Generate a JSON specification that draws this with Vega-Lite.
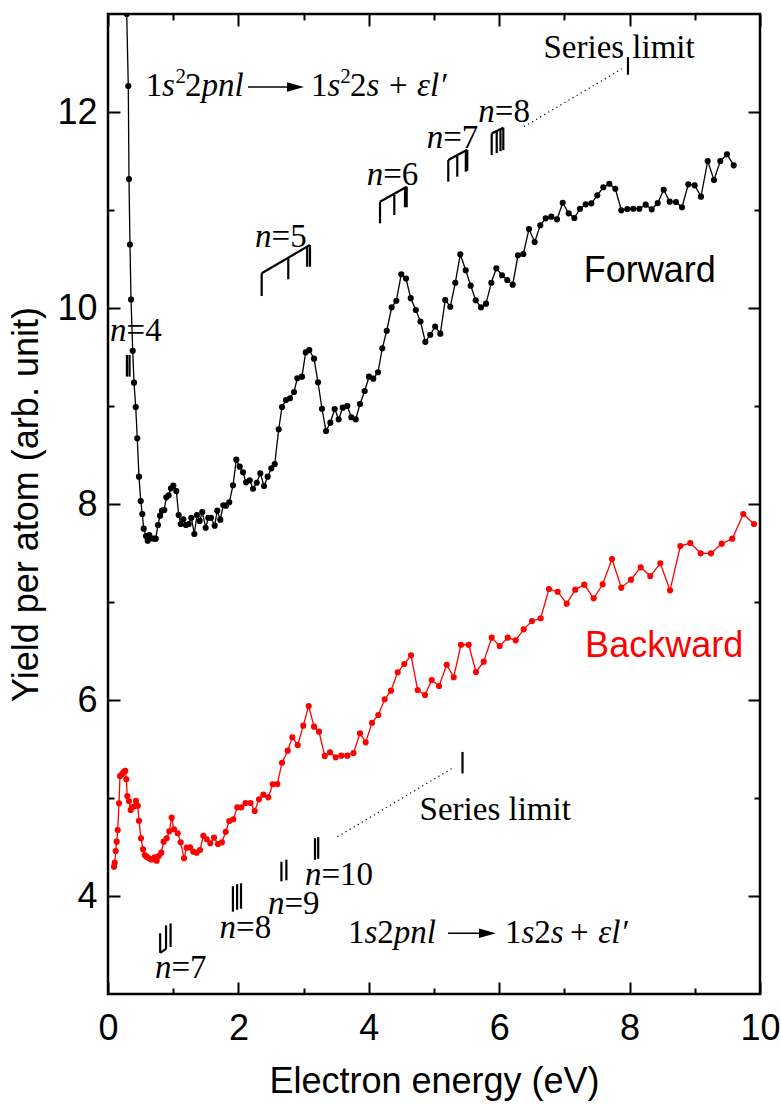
{
  "$schema": "https://vega.github.io/schema/vega-lite/v6.json",
  "width": 652,
  "height": 980,
  "autosize": "none",
  "padding": {"left": 108, "top": 14, "right": 21, "bottom": 110},
  "background": "white",
  "config": {
    "view": {"stroke": "black", "strokeWidth": 2.5},
    "axis": {"grid": false, "domain": false, "tickColor": "black", "tickWidth": 2, "labelColor": "black", "titleColor": "black", "labelFont": "Liberation Sans", "titleFont": "Liberation Sans", "labelFontSize": 36, "titleFontSize": 36, "titleFontWeight": "normal", "labelFlush": false, "labelOverlap": false}
  },
  "datasets": {
    "fwd": [
      {"x":0.287,"y":13.0},{"x":0.311,"y":12.265},{"x":0.322,"y":11.316},{"x":0.337,"y":10.648},{"x":0.353,"y":10.087},{"x":0.379,"y":9.564},{"x":0.399,"y":9.238},{"x":0.425,"y":8.99},{"x":0.449,"y":8.67},{"x":0.475,"y":8.279},{"x":0.502,"y":8.031},{"x":0.526,"y":7.898},{"x":0.548,"y":7.748},{"x":0.583,"y":7.673},{"x":0.609,"y":7.626},{"x":0.633,"y":7.684},{"x":0.66,"y":7.65},{"x":0.706,"y":7.646},{"x":0.732,"y":7.646},{"x":0.767,"y":7.786},{"x":0.798,"y":7.881},{"x":0.828,"y":7.932},{"x":0.863,"y":7.939},{"x":0.894,"y":8.068},{"x":0.931,"y":8.089},{"x":0.966,"y":8.16},{"x":1.002,"y":8.187},{"x":1.048,"y":8.133},{"x":1.084,"y":7.888},{"x":1.115,"y":7.796},{"x":1.155,"y":7.844},{"x":1.196,"y":7.786},{"x":1.238,"y":7.796},{"x":1.278,"y":7.86},{"x":1.324,"y":7.694},{"x":1.365,"y":7.888},{"x":1.406,"y":7.827},{"x":1.446,"y":7.918},{"x":1.498,"y":7.758},{"x":1.538,"y":7.86},{"x":1.58,"y":7.86},{"x":1.636,"y":7.779},{"x":1.676,"y":7.932},{"x":1.722,"y":7.84},{"x":1.768,"y":7.987},{"x":1.81,"y":7.983},{"x":1.86,"y":8.017},{"x":1.917,"y":8.191},{"x":1.968,"y":8.452},{"x":2.02,"y":8.381},{"x":2.071,"y":8.323},{"x":2.117,"y":8.221},{"x":2.173,"y":8.242},{"x":2.224,"y":8.156},{"x":2.281,"y":8.217},{"x":2.336,"y":8.313},{"x":2.393,"y":8.184},{"x":2.449,"y":8.279},{"x":2.505,"y":8.364},{"x":2.557,"y":8.408},{"x":2.618,"y":8.762},{"x":2.669,"y":8.99},{"x":2.73,"y":9.061},{"x":2.791,"y":9.079},{"x":2.853,"y":9.143},{"x":2.903,"y":9.283},{"x":2.975,"y":9.299},{"x":3.032,"y":9.548},{"x":3.087,"y":9.571},{"x":3.16,"y":9.483},{"x":3.221,"y":9.242},{"x":3.282,"y":8.972},{"x":3.344,"y":8.745},{"x":3.41,"y":8.83},{"x":3.477,"y":8.969},{"x":3.538,"y":8.864},{"x":3.6,"y":8.983},{"x":3.67,"y":9.0},{"x":3.732,"y":8.885},{"x":3.799,"y":8.864},{"x":3.865,"y":9.02},{"x":3.937,"y":9.153},{"x":4.003,"y":9.299},{"x":4.069,"y":9.279},{"x":4.141,"y":9.344},{"x":4.207,"y":9.589},{"x":4.275,"y":9.768},{"x":4.351,"y":10.007},{"x":4.422,"y":10.074},{"x":4.498,"y":10.344},{"x":4.571,"y":10.301},{"x":4.643,"y":10.1},{"x":4.721,"y":9.98},{"x":4.793,"y":9.862},{"x":4.867,"y":9.655},{"x":4.942,"y":9.727},{"x":5.018,"y":9.811},{"x":5.097,"y":9.738},{"x":5.173,"y":10.082},{"x":5.25,"y":10.013},{"x":5.327,"y":10.258},{"x":5.403,"y":10.548},{"x":5.486,"y":10.385},{"x":5.563,"y":10.228},{"x":5.64,"y":10.079},{"x":5.721,"y":10.007},{"x":5.798,"y":10.044},{"x":5.879,"y":10.258},{"x":5.956,"y":10.405},{"x":6.043,"y":10.334},{"x":6.124,"y":10.286},{"x":6.207,"y":10.238},{"x":6.288,"y":10.538},{"x":6.37,"y":10.551},{"x":6.457,"y":10.806},{"x":6.544,"y":10.673},{"x":6.63,"y":10.844},{"x":6.713,"y":10.915},{"x":6.799,"y":10.932},{"x":6.887,"y":10.905},{"x":6.974,"y":11.074},{"x":7.066,"y":10.966},{"x":7.152,"y":10.918},{"x":7.239,"y":11.013},{"x":7.327,"y":11.058},{"x":7.413,"y":11.068},{"x":7.505,"y":11.15},{"x":7.597,"y":11.232},{"x":7.689,"y":11.268},{"x":7.781,"y":11.217},{"x":7.873,"y":10.997},{"x":7.965,"y":11.01},{"x":8.057,"y":11.013},{"x":8.149,"y":11.013},{"x":8.247,"y":11.054},{"x":8.339,"y":11.007},{"x":8.431,"y":11.071},{"x":8.523,"y":11.207},{"x":8.615,"y":11.085},{"x":8.712,"y":11.082},{"x":8.804,"y":11.028},{"x":8.9,"y":11.262},{"x":8.998,"y":11.252},{"x":9.095,"y":11.136},{"x":9.198,"y":11.5},{"x":9.294,"y":11.306},{"x":9.391,"y":11.5},{"x":9.494,"y":11.568},{"x":9.597,"y":11.456}
    ],
    "bwd": [
      {"x":0.092,"y":4.299},{"x":0.103,"y":4.34},{"x":0.118,"y":4.459},{"x":0.133,"y":4.554},{"x":0.149,"y":4.673},{"x":0.169,"y":4.946},{"x":0.184,"y":5.224},{"x":0.215,"y":5.242},{"x":0.235,"y":5.262},{"x":0.265,"y":5.276},{"x":0.281,"y":5.191},{"x":0.296,"y":5.02},{"x":0.322,"y":4.969},{"x":0.348,"y":4.878},{"x":0.373,"y":4.905},{"x":0.41,"y":4.918},{"x":0.429,"y":4.972},{"x":0.456,"y":4.921},{"x":0.475,"y":4.768},{"x":0.506,"y":4.589},{"x":0.537,"y":4.477},{"x":0.563,"y":4.418},{"x":0.594,"y":4.401},{"x":0.624,"y":4.388},{"x":0.655,"y":4.374},{"x":0.686,"y":4.374},{"x":0.716,"y":4.395},{"x":0.747,"y":4.36},{"x":0.778,"y":4.408},{"x":0.817,"y":4.442},{"x":0.854,"y":4.554},{"x":0.9,"y":4.589},{"x":0.94,"y":4.66},{"x":0.977,"y":4.799},{"x":1.012,"y":4.681},{"x":1.069,"y":4.64},{"x":1.115,"y":4.548},{"x":1.166,"y":4.385},{"x":1.207,"y":4.493},{"x":1.258,"y":4.497},{"x":1.308,"y":4.452},{"x":1.36,"y":4.442},{"x":1.411,"y":4.469},{"x":1.462,"y":4.615},{"x":1.514,"y":4.579},{"x":1.569,"y":4.538},{"x":1.626,"y":4.595},{"x":1.687,"y":4.531},{"x":1.748,"y":4.548},{"x":1.805,"y":4.656},{"x":1.86,"y":4.765},{"x":1.922,"y":4.783},{"x":1.983,"y":4.905},{"x":2.045,"y":4.905},{"x":2.109,"y":4.949},{"x":2.186,"y":4.949},{"x":2.25,"y":4.867},{"x":2.316,"y":4.987},{"x":2.382,"y":5.034},{"x":2.459,"y":5.007},{"x":2.526,"y":5.14},{"x":2.597,"y":5.143},{"x":2.669,"y":5.36},{"x":2.756,"y":5.483},{"x":2.827,"y":5.619},{"x":2.91,"y":5.541},{"x":2.995,"y":5.738},{"x":3.078,"y":5.939},{"x":3.16,"y":5.728},{"x":3.236,"y":5.677},{"x":3.324,"y":5.429},{"x":3.405,"y":5.466},{"x":3.492,"y":5.415},{"x":3.578,"y":5.432},{"x":3.67,"y":5.432},{"x":3.765,"y":5.459},{"x":3.865,"y":5.66},{"x":3.952,"y":5.568},{"x":4.049,"y":5.768},{"x":4.146,"y":5.847},{"x":4.244,"y":6.007},{"x":4.34,"y":6.095},{"x":4.443,"y":6.283},{"x":4.544,"y":6.367},{"x":4.647,"y":6.456},{"x":4.75,"y":6.102},{"x":4.862,"y":6.051},{"x":4.965,"y":6.204},{"x":5.077,"y":6.143},{"x":5.195,"y":6.36},{"x":5.302,"y":6.232},{"x":5.414,"y":6.564},{"x":5.532,"y":6.564},{"x":5.644,"y":6.286},{"x":5.762,"y":6.391},{"x":5.885,"y":6.636},{"x":6.008,"y":6.551},{"x":6.13,"y":6.636},{"x":6.253,"y":6.609},{"x":6.376,"y":6.721},{"x":6.503,"y":6.806},{"x":6.636,"y":6.834},{"x":6.764,"y":7.133},{"x":6.897,"y":7.105},{"x":7.035,"y":6.983},{"x":7.167,"y":7.126},{"x":7.305,"y":7.177},{"x":7.449,"y":7.038},{"x":7.587,"y":7.181},{"x":7.73,"y":7.439},{"x":7.873,"y":7.146},{"x":8.021,"y":7.228},{"x":8.17,"y":7.354},{"x":8.317,"y":7.265},{"x":8.471,"y":7.395},{"x":8.62,"y":7.119},{"x":8.778,"y":7.571},{"x":8.931,"y":7.602},{"x":9.09,"y":7.497},{"x":9.248,"y":7.497},{"x":9.413,"y":7.595},{"x":9.575,"y":7.646},{"x":9.744,"y":7.898},{"x":9.908,"y":7.796}
    ],
    "seg": [
      {"x":0.29,"y":9.52,"x2":0.29,"y2":9.3},{"x":0.33,"y":9.52,"x2":0.33,"y2":9.3},
      {"x":2.357,"y":10.354,"x2":2.357,"y2":10.122},{"x":2.357,"y":10.354,"x2":3.098,"y2":10.643},{"x":2.765,"y":10.507,"x2":2.765,"y2":10.293},{"x":3.055,"y":10.625,"x2":3.055,"y2":10.421},{"x":3.098,"y":10.643,"x2":3.098,"y2":10.421},
      {"x":4.172,"y":11.085,"x2":4.172,"y2":10.864},{"x":4.172,"y":11.085,"x2":4.581,"y2":11.238},{"x":4.391,"y":11.153,"x2":4.391,"y2":10.949},{"x":4.555,"y":11.228,"x2":4.555,"y2":11.028},{"x":4.581,"y":11.238,"x2":4.581,"y2":11.028},
      {"x":5.219,"y":11.51,"x2":5.219,"y2":11.289},{"x":5.219,"y":11.51,"x2":5.51,"y2":11.615},{"x":5.357,"y":11.561,"x2":5.357,"y2":11.34},{"x":5.488,"y":11.607,"x2":5.488,"y2":11.391},{"x":5.51,"y":11.615,"x2":5.51,"y2":11.4},
      {"x":5.885,"y":11.78,"x2":5.885,"y2":11.56},{"x":5.885,"y":11.78,"x2":6.063,"y2":11.84},{"x":5.962,"y":11.806,"x2":5.962,"y2":11.58},{"x":6.02,"y":11.826,"x2":6.02,"y2":11.6},{"x":6.063,"y":11.84,"x2":6.063,"y2":11.61},
      {"x":7.975,"y":12.56,"x2":7.975,"y2":12.38},
      {"x":0.8,"y":3.42,"x2":0.8,"y2":3.62},{"x":0.8,"y":3.42,"x2":0.89,"y2":3.46},{"x":0.89,"y":3.46,"x2":0.89,"y2":3.7},{"x":0.96,"y":3.48,"x2":0.96,"y2":3.72},
      {"x":1.916,"y":3.84,"x2":1.916,"y2":4.1},{"x":1.98,"y":3.86,"x2":1.98,"y2":4.12},{"x":2.04,"y":3.87,"x2":2.04,"y2":4.13},
      {"x":2.66,"y":4.15,"x2":2.66,"y2":4.35},{"x":2.736,"y":4.16,"x2":2.736,"y2":4.37},
      {"x":3.175,"y":4.37,"x2":3.175,"y2":4.59},{"x":3.224,"y":4.38,"x2":3.224,"y2":4.6},
      {"x":5.437,"y":5.25,"x2":5.437,"y2":5.47}
    ],
    "thin": [
      {"x":2.147,"y":12.255,"x2":2.8,"y2":12.255},
      {"x":5.215,"y":3.62,"x2":5.74,"y2":3.62}
    ],
    "dots": [
      {"x":6.38,"y":11.85,"x2":7.88,"y2":12.44},
      {"x":3.52,"y":4.605,"x2":5.27,"y2":5.3}
    ],
    "heads": [
      {"x":2.876,"y":12.255},
      {"x":5.82,"y":3.62}
    ],
    "tn": [
      {"x":0.284,"y":9.663,"t":"=4"},{"x":2.508,"y":10.622,"t":"=5"},{"x":4.221,"y":11.255,"t":"=6"},{"x":5.141,"y":11.633,"t":"=7"},{"x":5.933,"y":11.9,"t":"=8"},
      {"x":0.974,"y":3.163,"t":"=7"},{"x":1.965,"y":3.571,"t":"=8"},{"x":2.707,"y":3.82,"t":"=9"},{"x":3.274,"y":4.11,"t":"=10"},
      {"x":6.679,"y":12.551,"t":"Series limit"},{"x":4.779,"y":4.776,"t":"Series limit"},
      {"x":0.578,"y":12.16,"t":"1"},{"x":1.181,"y":12.16,"t":"2"},{"x":3.113,"y":12.16,"t":"1"},{"x":3.712,"y":12.16,"t":"2"},{"x":4.31,"y":12.16,"t":"+"},
      {"x":3.681,"y":3.52,"t":"1"},{"x":4.13,"y":3.52,"t":"2"},{"x":6.089,"y":3.52,"t":"1"},{"x":6.538,"y":3.52,"t":"2"},{"x":7.086,"y":3.52,"t":"+"}
    ],
    "ti": [
      {"x":0.031,"y":9.663,"t":"n"},{"x":2.255,"y":10.622,"t":"n"},{"x":3.968,"y":11.255,"t":"n"},{"x":4.888,"y":11.633,"t":"n"},{"x":5.68,"y":11.9,"t":"n"},
      {"x":0.721,"y":3.163,"t":"n"},{"x":1.712,"y":3.571,"t":"n"},{"x":2.454,"y":3.82,"t":"n"},{"x":3.021,"y":4.11,"t":"n"},
      {"x":0.828,"y":12.16,"t":"s"},{"x":1.434,"y":12.16,"t":"pnl"},{"x":3.366,"y":12.16,"t":"s"},{"x":3.965,"y":12.16,"t":"s"},{"x":4.74,"y":12.16,"t":"εl′"},
      {"x":3.934,"y":3.52,"t":"s"},{"x":4.383,"y":3.52,"t":"pnl"},{"x":6.342,"y":3.52,"t":"s"},{"x":6.791,"y":3.52,"t":"s"},{"x":7.52,"y":3.52,"t":"εl′"}
    ],
    "tsup": [
      {"x":1.035,"y":12.3,"t":"2"},{"x":3.563,"y":12.3,"t":"2"}
    ],
    "labf": [{"x":8.31,"y":10.27,"t":"Forward"}],
    "labb": [{"x":8.53,"y":6.44,"t":"Backward"}]
  },
  "layer": [
    {
      "data": {"name": "fwd"},
      "mark": {"type": "line", "color": "black", "strokeWidth": 1.3, "clip": true},
      "encoding": {
        "x": {"field": "x", "type": "quantitative", "scale": {"domain": [0, 10], "nice": false, "zero": false},
          "axis": {"orient": "bottom", "values": [0,2,4,6,8,10], "tickSize": -12, "labelPadding": 29,
            "title": "Electron energy (eV)", "titlePadding": 18}},
        "y": {"field": "y", "type": "quantitative", "scale": {"domain": [3, 13], "nice": false, "zero": false},
          "axis": {"orient": "left", "values": [4,6,8,10,12], "tickSize": -12, "labelPadding": 23,
            "title": "Yield per atom (arb. unit)", "titlePadding": 11}}
      }
    },
    {
      "data": {"name": "fwd"},
      "mark": {"type": "circle", "color": "black", "opacity": 1, "size": 38, "clip": true},
      "encoding": {
        "x": {"field": "x", "type": "quantitative",
          "axis": {"orient": "bottom", "values": [1,3,5,7,9], "tickSize": -6, "labels": false, "title": null}},
        "y": {"field": "y", "type": "quantitative",
          "axis": {"orient": "left", "values": [5,7,9,11], "tickSize": -6, "labels": false, "title": null}}
      }
    },
    {
      "data": {"name": "bwd"},
      "mark": {"type": "line", "color": "#ff0000", "strokeWidth": 1.3, "clip": true},
      "encoding": {
        "x": {"field": "x", "type": "quantitative",
          "axis": {"orient": "top", "values": [0,2,4,6,8,10], "labels": false, "tickSize": -12, "title": null}},
        "y": {"field": "y", "type": "quantitative",
          "axis": {"orient": "right", "values": [4,6,8,10,12], "labels": false, "tickSize": -12, "title": null}}
      }
    },
    {
      "data": {"name": "bwd"},
      "mark": {"type": "circle", "color": "#ff0000", "opacity": 1, "size": 38, "clip": true},
      "encoding": {
        "x": {"field": "x", "type": "quantitative",
          "axis": {"orient": "top", "values": [1,3,5,7,9], "labels": false, "tickSize": -6, "title": null}},
        "y": {"field": "y", "type": "quantitative",
          "axis": {"orient": "right", "values": [5,7,9,11], "labels": false, "tickSize": -6, "title": null}}
      }
    },
    {
      "data": {"name": "seg"},
      "mark": {"type": "rule", "color": "black", "strokeWidth": 2.2},
      "encoding": {
        "x": {"field": "x", "type": "quantitative", "axis": null},
        "y": {"field": "y", "type": "quantitative", "axis": null},
        "x2": {"field": "x2"},
        "y2": {"field": "y2"}
      }
    },
    {
      "data": {"name": "thin"},
      "mark": {"type": "rule", "color": "black", "strokeWidth": 1.4},
      "encoding": {
        "x": {"field": "x", "type": "quantitative", "axis": null},
        "y": {"field": "y", "type": "quantitative", "axis": null},
        "x2": {"field": "x2"},
        "y2": {"field": "y2"}
      }
    },
    {
      "data": {"name": "dots"},
      "mark": {"type": "rule", "color": "black", "strokeWidth": 1.2, "strokeDash": [1.2, 3.5]},
      "encoding": {
        "x": {"field": "x", "type": "quantitative", "axis": null},
        "y": {"field": "y", "type": "quantitative", "axis": null},
        "x2": {"field": "x2"},
        "y2": {"field": "y2"}
      }
    },
    {
      "data": {"name": "heads"},
      "mark": {"type": "point", "shape": "M-1,-0.55L1,0L-1,0.55Z", "filled": true, "color": "black", "opacity": 1, "size": 289},
      "encoding": {
        "x": {"field": "x", "type": "quantitative", "axis": null},
        "y": {"field": "y", "type": "quantitative", "axis": null}
      }
    },
    {
      "data": {"name": "tn"},
      "mark": {"type": "text", "font": "Liberation Serif", "fontSize": 33, "align": "left", "baseline": "alphabetic", "color": "black"},
      "encoding": {
        "x": {"field": "x", "type": "quantitative", "axis": null},
        "y": {"field": "y", "type": "quantitative", "axis": null},
        "text": {"field": "t"}
      }
    },
    {
      "data": {"name": "ti"},
      "mark": {"type": "text", "font": "Liberation Serif", "fontSize": 33, "fontStyle": "italic", "align": "left", "baseline": "alphabetic", "color": "black"},
      "encoding": {
        "x": {"field": "x", "type": "quantitative", "axis": null},
        "y": {"field": "y", "type": "quantitative", "axis": null},
        "text": {"field": "t"}
      }
    },
    {
      "data": {"name": "tsup"},
      "mark": {"type": "text", "font": "Liberation Serif", "fontSize": 21, "align": "left", "baseline": "alphabetic", "color": "black"},
      "encoding": {
        "x": {"field": "x", "type": "quantitative", "axis": null},
        "y": {"field": "y", "type": "quantitative", "axis": null},
        "text": {"field": "t"}
      }
    },
    {
      "data": {"name": "labf"},
      "mark": {"type": "text", "font": "Liberation Sans", "fontSize": 36, "align": "center", "baseline": "alphabetic", "color": "black"},
      "encoding": {
        "x": {"field": "x", "type": "quantitative", "axis": null},
        "y": {"field": "y", "type": "quantitative", "axis": null},
        "text": {"field": "t"}
      }
    },
    {
      "data": {"name": "labb"},
      "mark": {"type": "text", "font": "Liberation Sans", "fontSize": 36, "align": "center", "baseline": "alphabetic", "color": "#ff0000"},
      "encoding": {
        "x": {"field": "x", "type": "quantitative", "axis": null},
        "y": {"field": "y", "type": "quantitative", "axis": null},
        "text": {"field": "t"}
      }
    }
  ],
  "resolve": {"axis": {"x": "independent", "y": "independent"}}
}
